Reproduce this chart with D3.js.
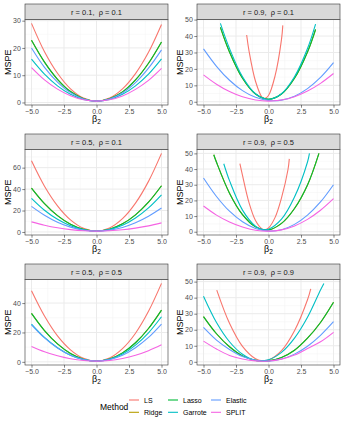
<!DOCTYPE html>
<html>
<head>
<meta charset="utf-8">
<script src="https://cdn.jsdelivr.net/npm/d3@7"></script>
<style>
  body { margin: 0; background: #fff; }
  text { font-family: "Liberation Sans", Arial, sans-serif; }
</style>
</head>
<body>
<svg id="chart" width="345" height="423"></svg>
<script>
// methods, in legend / drawing order
const methods = ['LS', 'Ridge', 'Lasso', 'Garrote', 'Elastic', 'SPLIT'];
const methodColors = ['#F8766D', '#B79F00', '#00BA38', '#00BFC4', '#619CFF', '#F564E3'];
const betaGrid = [-5, -4, -3, -2, -1, 0, 1, 2, 3, 4, 5];

const panelTitles = [
  ['0.1', '0.1'], ['0.9', '0.1'],
  ['0.5', '0.1'], ['0.9', '0.5'],
  ['0.5', '0.5'], ['0.9', '0.9']
];
const panelYTicks = [
  [0, 10, 20, 30], [0, 10, 20, 30, 40, 50],
  [0, 20, 40, 60], [0, 10, 20, 30, 40, 50],
  [0, 20, 40], [0, 10, 20, 30, 40, 50]
];
const xTicks = [-5, -2.5, 0, 2.5, 5];

// MSPE values (on betaGrid, or [beta, value] where a curve is cut)
const r01p01 = {
  LS:      [29.0, 18.6, 10.7, 5.0, 1.6, 0.5, 1.6, 5.0, 10.6, 18.4, 28.6],
  Ridge:   [22.8, 14.8, 8.5, 4.0, 1.4, 0.5, 1.4, 3.9, 8.3, 14.4, 22.2],
  Lasso:   [22.8, 14.8, 8.5, 4.0, 1.4, 0.5, 1.4, 3.9, 8.3, 14.4, 22.2],
  Garrote: [15.9, 10.4, 6.1, 3.0, 1.1, 0.5, 1.1, 3.0, 6.1, 10.4, 16.0],
  Elastic: [20.0, 12.9, 7.5, 3.6, 1.3, 0.5, 1.3, 3.5, 7.3, 12.6, 19.3],
  SPLIT:   [12.8, 8.3, 4.9, 2.5, 1.0, 0.5, 1.0, 2.4, 4.8, 8.1, 12.5]
};
const r09p01 = {
  LS:      [[-1.68, 40.6], [-1.5, 31.0], [-1, 12.5], [-0.5, 2.8], [-0.3, 1.9], [0, 3.8], [0.5, 15.6], [1, 38.0], [1.1, 46.5]],
  Ridge:   [[-3.7, 45.3], [-3, 30.3], [-2, 14.3], [-1, 4.7], [0, 1.5], [1, 4.7], [2, 14.3], [3, 30.3], [3.62, 44.0]],
  Lasso:   [[-3.7, 45.3], [-3, 30.3], [-2, 14.3], [-1, 4.7], [0, 1.5], [1, 4.7], [2, 14.3], [3, 30.3], [3.62, 44.0]],
  Garrote: [[-3.7, 47.7], [-3, 32.4], [-2, 15.2], [-1, 4.9], [0, 1.5], [1, 4.9], [2, 15.2], [3, 32.4], [3.62, 47.3]],
  Elastic: [32.2, 21.6, 13.1, 6.8, 2.7, 0.8, 1.0, 3.4, 8.0, 14.8, 23.8],
  SPLIT:   [16.4, 10.7, 6.2, 3.0, 1.1, 0.4, 1.1, 3.1, 6.5, 11.2, 17.2]
};
const r05p01 = {
  LS:      [66.4, 42.7, 24.4, 11.3, 3.4, 0.8, 3.7, 12.4, 26.9, 47.2, 73.3],
  Ridge:   [40.9, 26.4, 15.2, 7.2, 2.4, 0.8, 2.5, 7.6, 16.0, 27.8, 43.1],
  Lasso:   [40.9, 26.4, 15.2, 7.2, 2.4, 0.8, 2.5, 7.6, 16.0, 27.8, 43.1],
  Garrote: [31.4, 20.3, 11.8, 5.7, 2.0, 0.8, 2.2, 6.2, 13.0, 22.4, 34.6],
  Elastic: [23.9, 15.6, 9.1, 4.5, 1.7, 0.8, 1.7, 4.2, 8.5, 14.6, 22.3],
  SPLIT:   [9.4, 6.3, 3.9, 2.2, 1.1, 0.8, 1.1, 2.0, 3.6, 5.7, 8.5]
};
const r09p05 = {
  LS:      [[-2.2, 43.4], [-2, 36.0], [-1.5, 18.6], [-1, 7.2], [-0.5, 1.8], [-0.3, 1.3], [0, 2.4], [0.5, 9.0], [1, 21.6], [1.5, 39.7], [1.6, 46.5]],
  Ridge:   [[-4.21, 49.1], [-4, 44.3], [-3, 24.6], [-2, 10.9], [-1, 3.1], [0, 1.2], [1, 5.3], [2, 14.8], [3, 29.8], [3.88, 50.0]],
  Lasso:   [[-4.21, 49.1], [-4, 44.3], [-3, 24.6], [-2, 10.9], [-1, 3.1], [0, 1.2], [1, 5.3], [2, 14.8], [3, 29.8], [3.88, 50.0]],
  Garrote: [[-3.44, 43.4], [-3, 32.6], [-2, 13.8], [-1, 3.5], [-0.5, 1.5], [0, 1.6], [1, 8.0], [2, 22.1], [3, 44.5], [3.15, 50.0]],
  Elastic: [34.3, 22.5, 13.1, 6.4, 2.1, 0.4, 1.3, 4.7, 10.6, 19.0, 30.0],
  SPLIT:   [16.4, 10.6, 6.2, 3.0, 1.0, 0.4, 1.2, 3.7, 7.9, 13.7, 21.1]
};
const r05p05 = {
  LS:      [48.4, 31.2, 17.7, 8.2, 2.4, 0.5, 2.6, 9.0, 19.5, 34.4, 53.4],
  Ridge:   [33.0, 21.3, 12.2, 5.7, 1.8, 0.5, 1.9, 6.1, 13.0, 22.7, 35.2],
  Lasso:   [33.0, 21.3, 12.2, 5.7, 1.8, 0.5, 1.9, 6.1, 13.0, 22.7, 35.2],
  Garrote: [25.7, 16.6, 9.6, 4.5, 1.5, 0.5, 1.7, 5.3, 11.4, 19.8, 30.7],
  Elastic: [25.2, 16.3, 9.4, 4.5, 1.5, 0.5, 1.5, 4.5, 9.6, 16.6, 25.7],
  SPLIT:   [10.5, 6.9, 4.1, 2.1, 0.9, 0.5, 0.9, 2.3, 4.5, 7.6, 11.6]
};
const r09p09 = {
  LS:      [[-3.98, 44.7], [-3, 24.0], [-2, 9.6], [-1, 1.9], [-0.4, 0.6], [0, 1.1], [1, 7.0], [2, 19.4], [3, 38.7], [3.25, 45.5]],
  Ridge:   [28.2, 17.5, 9.4, 3.7, 0.9, 0.56, 2.7, 7.2, 14.7, 24.5, 37.1],
  Lasso:   [28.2, 17.5, 9.4, 3.7, 0.9, 0.56, 2.7, 7.2, 14.7, 24.5, 37.1],
  Garrote: [[-5, 40.9], [-4, 24.5], [-3, 12.5], [-2, 4.7], [-1, 0.9], [0, 1.3], [1, 5.9], [2, 14.8], [3, 27.8], [4, 44.8], [4.26, 48.9]],
  Elastic: [21.4, 13.5, 7.7, 3.3, 0.98, 0.44, 1.7, 4.8, 9.7, 16.5, 25.0],
  SPLIT:   [12.9, 8.0, 4.0, 1.8, 0.6, 0.5, 1.7, 4.2, 8.3, 12.5, 18.4]
};
const panelData = [r01p01, r09p01, r05p01, r09p05, r05p05, r09p09];

const toPoints = s => s.map((v, i) => Array.isArray(v) ? v : [betaGrid[i], v]);

const svg = d3.select('#chart');
const cols = [{x0: 25, x1: 168}, {x0: 197, x1: 340}];
const rowTops = [4, 134, 264];
const stripH = 15.5;
const panelBottomOff = 101;

panelData.forEach((data, idx) => {
  const col = cols[idx % 2];
  const top = rowTops[Math.floor(idx / 2)];
  const py0 = top + stripH, py1 = top + panelBottomOff;

  const series = methods.map((m, i) => ({name: m, color: methodColors[i], pts: toPoints(data[m])}));
  const allV = series.flatMap(s => s.pts.map(p => p[1]));
  const [vmin, vmax] = d3.extent(allV);
  const pad = (vmax - vmin) * 0.05;

  const x = d3.scaleLinear().domain([-5.5, 5.5]).range([col.x0, col.x1]);
  const y = d3.scaleLinear().domain([vmin - pad, vmax + pad]).range([py1, py0]);
  const yTicks = panelYTicks[idx];

  const g = svg.append('g');

  // panel background + grid
  g.append('rect').attr('x', col.x0).attr('y', py0)
    .attr('width', col.x1 - col.x0).attr('height', py1 - py0).attr('fill', '#fff');

  const xMinor = d3.range(xTicks.length - 1).map(i => (xTicks[i] + xTicks[i + 1]) / 2);
  const yStep = yTicks[1] - yTicks[0];
  const yMinor = d3.range(yTicks[0] - yStep / 2, vmax + pad, yStep)
    .filter(v => v > vmin - pad && v < vmax + pad);

  g.selectAll('.xminor').data(xMinor).join('line')
    .attr('x1', d => x(d)).attr('x2', d => x(d)).attr('y1', py0).attr('y2', py1)
    .attr('stroke', '#F2F2F2').attr('stroke-width', 0.5);
  g.selectAll('.yminor').data(yMinor).join('line')
    .attr('x1', col.x0).attr('x2', col.x1).attr('y1', d => y(d)).attr('y2', d => y(d))
    .attr('stroke', '#F2F2F2').attr('stroke-width', 0.5);
  g.selectAll('.xmajor').data(xTicks).join('line')
    .attr('x1', d => x(d)).attr('x2', d => x(d)).attr('y1', py0).attr('y2', py1)
    .attr('stroke', '#EBEBEB').attr('stroke-width', 1);
  g.selectAll('.ymajor').data(yTicks).join('line')
    .attr('x1', col.x0).attr('x2', col.x1).attr('y1', d => y(d)).attr('y2', d => y(d))
    .attr('stroke', '#EBEBEB').attr('stroke-width', 1);

  // curves
  const line = d3.line().x(d => x(d[0])).y(d => y(d[1])).curve(d3.curveCatmullRom.alpha(0.5));
  g.selectAll('.curve').data(series).join('path')
    .attr('d', d => line(d.pts))
    .attr('fill', 'none')
    .attr('stroke', d => d.color)
    .attr('stroke-width', 1.1);

  // border
  g.append('rect').attr('x', col.x0).attr('y', py0)
    .attr('width', col.x1 - col.x0).attr('height', py1 - py0)
    .attr('fill', 'none').attr('stroke', '#333333').attr('stroke-width', 0.6);

  // strip
  g.append('rect').attr('x', col.x0).attr('y', top)
    .attr('width', col.x1 - col.x0).attr('height', stripH)
    .attr('fill', '#D9D9D9').attr('stroke', '#333333').attr('stroke-width', 0.6);
  const [rv, pv] = panelTitles[idx];
  g.append('text')
    .attr('x', (col.x0 + col.x1) / 2).attr('y', top + stripH / 2 + 3)
    .attr('text-anchor', 'middle').attr('font-size', 7.5).attr('fill', '#1A1A1A')
    .text(`r = ${rv},  \u03C1 = ${pv}`)
    .style('white-space', 'pre');

  // axes
  const xAxis = d3.axisBottom(x).tickValues(xTicks).tickFormat(d3.format('.1f')).tickSize(2.7).tickPadding(1.5);
  const ax = g.append('g').attr('transform', `translate(0,${py1})`).call(xAxis);
  const yAxis = d3.axisLeft(y).tickValues(yTicks).tickSize(2.7).tickPadding(1.5);
  const ay = g.append('g').attr('transform', `translate(${col.x0},0)`).call(yAxis);
  [ax, ay].forEach(a => {
    a.select('.domain').remove();
    a.selectAll('.tick line').attr('stroke', '#333333').attr('stroke-width', 0.6);
    a.selectAll('.tick text').attr('fill', '#4D4D4D').attr('font-size', 7)
      .attr('font-family', '"Liberation Sans", Arial, sans-serif');
  });

  // axis titles
  const bt = g.append('text')
    .attr('x', (col.x0 + col.x1) / 2).attr('y', py1 + 17)
    .attr('text-anchor', 'middle').attr('font-size', 9).attr('fill', '#000');
  bt.append('tspan').text('\u03B2');
  bt.append('tspan').attr('font-size', 6.5).attr('dy', 2).text('2');

  g.append('text')
    .attr('transform', `translate(${col.x0 - 14},${(py0 + py1) / 2}) rotate(-90)`)
    .attr('text-anchor', 'middle').attr('font-size', 9).attr('fill', '#000')
    .text('MSPE');
});

// legend
const legend = svg.append('g');
legend.append('text').attr('x', 100).attr('y', 409.5)
  .attr('font-size', 8.5).attr('fill', '#000').text('Method');
const legX = [129, 168, 211];
const legY = [400, 412.3];
methods.forEach((m, i) => {
  const cx = legX[Math.floor(i / 2)];
  const cy = legY[i % 2];
  legend.append('line').attr('x1', cx).attr('x2', cx + 10).attr('y1', cy).attr('y2', cy)
    .attr('stroke', methodColors[i]).attr('stroke-width', 1.1);
  legend.append('text').attr('x', cx + 15).attr('y', cy + 2.5)
    .attr('font-size', 7).attr('fill', '#000').text(m);
});
</script>
</body>
</html>
